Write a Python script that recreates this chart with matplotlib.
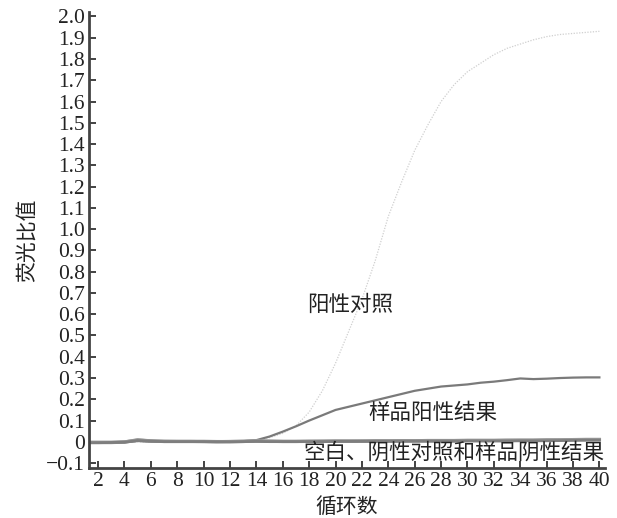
import matplotlib
matplotlib.use("Agg")
import matplotlib.pyplot as plt
import numpy as np

plt.rcParams['font.family'] = ['Liberation Serif', 'Noto Sans CJK SC']

# cycles 1..40
cycles = np.arange(1, 41)

# positive control (faint dotted curve)
pos_ctrl = [0, 0, 0, 0, 0, 0, 0, 0, 0, 0,
            0, 0, 0.002, 0.008, 0.02, 0.04, 0.075, 0.14, 0.24, 0.37,
            0.52, 0.67, 0.85, 1.06, 1.22, 1.37, 1.49, 1.6, 1.68, 1.74,
            1.78, 1.82, 1.85, 1.87, 1.89, 1.905, 1.915, 1.92, 1.925, 1.93]

# sample positive
sample_pos = [-0.002, -0.002, -0.002, 0, 0.004, 0.002, 0.001, 0.001, 0.002, 0.002,
              0.002, 0.002, 0.003, 0.008, 0.025, 0.048, 0.073, 0.1, 0.125, 0.15,
              0.165, 0.18, 0.195, 0.21, 0.225, 0.24, 0.25, 0.26, 0.265, 0.27,
              0.278, 0.283, 0.29, 0.298, 0.295, 0.297, 0.3, 0.302, 0.303, 0.303]

# blank, negative control, sample negative
blank = [-0.003, -0.003, -0.003, -0.001, 0.008, 0.004, 0.002, 0.002, 0.002, 0.002,
         0.001, 0.001, 0.002, 0.004, 0.003, 0.002, 0.002, 0.003, 0.003, 0.004,
         0.004, 0.004, 0.005, 0.005, 0.005, 0.005, 0.006, 0.006, 0.006, 0.007,
         0.007, 0.007, 0.008, 0.008, 0.008, 0.009, 0.009, 0.01, 0.01, 0.01]
neg_ctrl = [-0.002, -0.002, -0.002, 0, 0.01, 0.005, 0.003, 0.002, 0.002, 0.001,
            0.001, 0.002, 0.003, 0.005, 0.003, 0.002, 0.002, 0.002, 0.003, 0.003,
            0.003, 0.004, 0.004, 0.004, 0.004, 0.005, 0.005, 0.005, 0.005, 0.006,
            0.006, 0.006, 0.006, 0.007, 0.007, 0.008, 0.009, 0.011, 0.012, 0.012]
sample_neg = [-0.004, -0.004, -0.003, -0.002, 0.006, 0.003, 0.001, 0.001, 0.001, 0.001,
              0, 0, 0.001, 0.002, 0.001, 0.001, 0.001, 0.001, 0.001, 0.002,
              0.002, 0.002, 0.002, 0.002, 0.003, 0.003, 0.003, 0.003, 0.003, 0.004,
              0.004, 0.004, 0.004, 0.005, 0.005, 0.005, 0.006, 0.007, 0.008, 0.008]

xticks = list(range(2, 41, 2))
yticks = [-0.1, 0, 0.1, 0.2, 0.3, 0.4, 0.5, 0.6, 0.7, 0.8, 0.9, 1.0,
          1.1, 1.2, 1.3, 1.4, 1.5, 1.6, 1.7, 1.8, 1.9, 2.0]
ytick_labels = ['\u22120.1', '0'] + ['%.1f' % v for v in yticks[2:]]

fig = plt.figure(figsize=(6.17, 5.18), dpi=100)
ax = fig.add_axes([0.144, 0.0965, 0.836, 0.88])

ax.plot(cycles, pos_ctrl, color='#cfcfcf', lw=0.9, ls=(0, (1, 1.2)))
ax.plot(cycles, sample_pos, color='#7a7a7a', lw=1.6)
ax.plot(cycles, blank, color='#8c8c8c', lw=2.4)
ax.plot(cycles, neg_ctrl, color='#9a9a9a', lw=2.2)
ax.plot(cycles, sample_neg, color='#7e7e7e', lw=2.0)

ax.set_xlim(1.3, 40.4)
ax.set_ylim(-0.123, 2.02)
ax.set_xticks(xticks)
ax.set_yticks(yticks)
ax.set_yticklabels(ytick_labels)
ax.tick_params(direction='in', length=5, width=1.2, labelsize=15.5, colors='#222222', pad=3)

for s in ['top', 'right']:
    ax.spines[s].set_visible(False)
for s in ['left', 'bottom']:
    ax.spines[s].set_linewidth(2)
    ax.spines[s].set_color('#444444')

cjk = ['Noto Sans CJK SC', 'DejaVu Sans']
ax.set_xlabel('循环数', family=cjk, fontsize=15, labelpad=3, color='#222222')
ax.set_ylabel('荧光比值', family=cjk, fontsize=15, labelpad=6, color='#222222')

ax.text(21.1, 0.645, '阳性对照', family=cjk, fontsize=15.5, ha='center', va='center', color='#222222')
ax.text(27.4, 0.135, '样品阳性结果', family=cjk, fontsize=15.5, ha='center', va='center', color='#222222')
ax.text(29.0, -0.05, '空白、阴性对照和样品阴性结果', family=cjk, fontsize=15.5, ha='center', va='center', color='#222222')

plt.savefig('out.png', dpi=100)
